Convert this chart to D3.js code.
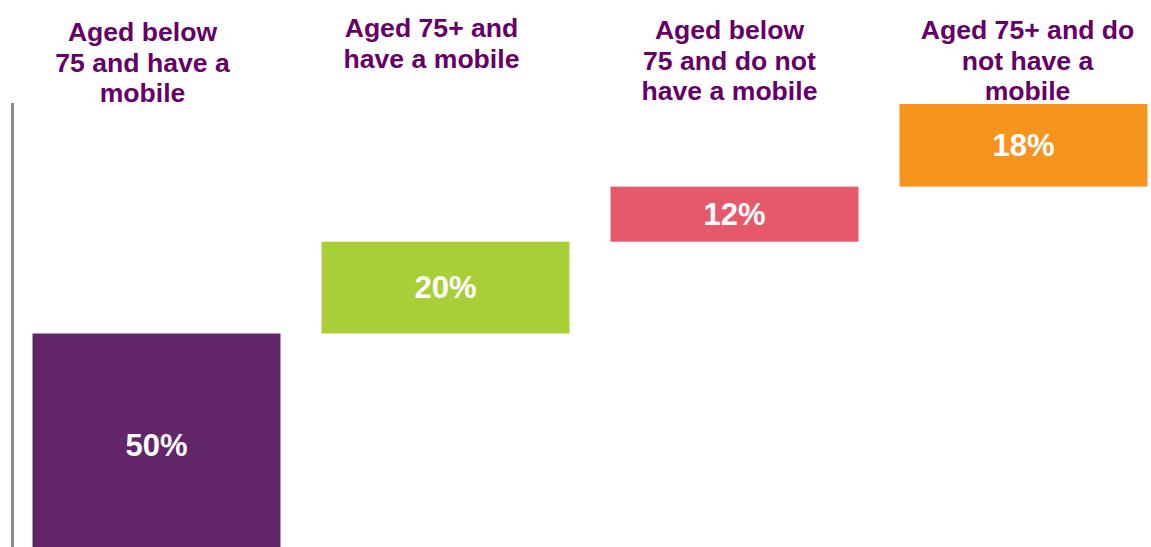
<!DOCTYPE html>
<html>
<head>
<meta charset="utf-8">
<script src="https://cdn.jsdelivr.net/npm/d3@7"></script>
<style>
  html, body { margin: 0; padding: 0; background: #ffffff; }
  svg { display: block; }
</style>
</head>
<body>
<svg id="chart" width="1151" height="547"></svg>
<script>
// Share of people by age group and mobile ownership (stacked waterfall)
const categories = [
  "Aged below\n75 and have a\nmobile",
  "Aged 75+ and\nhave a mobile",
  "Aged below\n75 and do not\nhave a mobile",
  "Aged 75+ and do\nnot have a\nmobile"
];
const values = [50, 20, 12, 18];
const valueLabels = ["50%", "20%", "12%", "18%"];
const colors = ["#622567", "#A9CF38", "#E6596A", "#F7941E"];

const width = 1151, height = 547;
const svg = d3.select("#chart");

// heading text boxes sit a little off each column's centre
const headShiftX = [-14, -14, -5, 4];
const headShiftY = [2, -2, 0, 0];

// running totals give each block its floor
const starts = values.map((v, i) => d3.sum(values.slice(0, i)));

const x = d3.scaleBand()
  .domain(d3.range(categories.length))
  .range([12, 1168])
  .paddingInner(0.142)
  .paddingOuter(0.071);

const y = d3.scaleLinear()
  .domain([0, 100])
  .range([563, 104]);

// vertical axis line
svg.append("line")
  .attr("x1", 12.5).attr("x2", 12.5)
  .attr("y1", 103).attr("y2", height)
  .attr("stroke", "#8c8c8c")
  .attr("stroke-width", 3);

const bars = svg.append("g").selectAll("g")
  .data(values.map((v, i) => ({ i, v, s: starts[i] })))
  .join("g");

bars.append("rect")
  .attr("x", d => x(d.i))
  .attr("width", x.bandwidth())
  .attr("y", d => y(d.s + d.v))
  .attr("height", d => y(d.s) - y(d.s + d.v))
  .attr("fill", d => colors[d.i]);

bars.append("text")
  .attr("x", d => x(d.i) + x.bandwidth() / 2)
  .attr("y", d => Math.min((y(d.s) + y(d.s + d.v)) / 2, 445))
  .attr("text-anchor", "middle")
  .attr("dominant-baseline", "central")
  .attr("fill", "#ffffff")
  .attr("font-family", "'Liberation Sans', Arial, sans-serif")
  .attr("font-weight", "bold")
  .attr("font-size", 31)
  .text(d => valueLabels[d.i]);

// category headings above the columns
const heads = svg.append("g").selectAll("text")
  .data(categories.map((c, i) => ({ i, lines: c.split("\n") })))
  .join("text")
  .attr("text-anchor", "middle")
  .attr("fill", "#660066")
  .attr("font-family", "'Liberation Sans', Arial, sans-serif")
  .attr("font-weight", "bold")
  .attr("font-size", 26.6);

heads.selectAll("tspan")
  .data(d => d.lines.map((l, k) => ({ l, k, i: d.i })))
  .join("tspan")
  .attr("x", d => x(d.i) + x.bandwidth() / 2 + headShiftX[d.i])
  .attr("y", d => 39 + headShiftY[d.i] + d.k * 30.5)
  .text(d => d.l);
</script>
</body>
</html>
